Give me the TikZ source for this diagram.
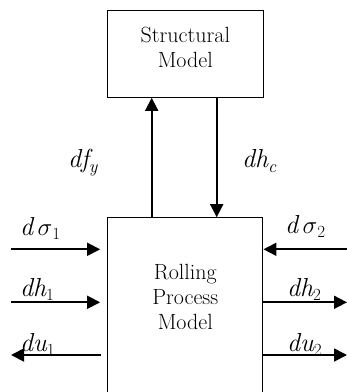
\documentclass[tikz,border=0pt]{standalone}
\usepackage{fontspec}
\usetikzlibrary{arrows.meta}
\newcommand\subup[1]{\raisebox{-4pt}{\fontsize{17}{17}\selectfont\upshape #1}}
\newcommand\subit[1]{\raisebox{-5pt}{\fontsize{18}{18}\selectfont\itshape #1}}
\begin{document}
\begin{tikzpicture}[x=1pt,y=-1pt,
  box/.style={draw,line width=1pt,inner sep=0},
  arr/.style={line width=1.8pt,-{Triangle[length=13pt,width=13pt]}},
  lbl/.style={inner sep=0,anchor=base west,font=\fontsize{26}{28}\selectfont\itshape},
  txt/.style={align=center,font=\fontsize{22}{25}\selectfont}]
\clip (0,0) rectangle (347,392);
\node[box,minimum width=156pt,minimum height=86.6pt] (sm) at (185.3,54) {};
\node[txt] (smtext) at (185.3,47.5) {Structural\\Model};
\node[box,minimum width=155.3pt,minimum height=200pt] (rpm) at (185.3,317.7) {};
\node[txt] (rpmtext) at (185.3,297) {Rolling\\Process\\Model};
% vertical connectors
\draw[arr] ([xshift=-33.6pt]rpm.north) -- ([xshift=-33.6pt]sm.south);
\draw[arr] ([xshift=31.4pt]sm.south) -- ([xshift=31.4pt]rpm.north);
\node[lbl] (lfy) at (68,167) {df\subit{y}};
\node[lbl] (lhc) at (242,167) {dh\subit{c}};
% left side
\coordinate (a1) at (11,249.3);
\coordinate (a2) at (11,302.3);
\coordinate (a3) at (11,355);
\draw[arr,shorten >=7pt] (a1) -- (a1 -| rpm.west);
\draw[arr,shorten >=7pt] (a2) -- (a2 -| rpm.west);
\draw[arr,shorten <=6pt] (a3 -| rpm.west) -- (a3);
\node[lbl] (ls1) at (20,235) {d\,$\sigma$\subup{1}};
\node[lbl] (lh1) at (20,296) {dh\subup{1}};
\node[lbl] (lu1) at (20,351) {du\subup{1}};
% right side
\coordinate (b1) at (347,249.3);
\coordinate (b2) at (347,302.3);
\coordinate (b3) at (347,355);
\draw[arr] (b1) -- (b1 -| rpm.east);
\draw[arr] (b2 -| rpm.east) -- (b2);
\draw[arr] (b3 -| rpm.east) -- (b3);
\node[lbl] (ls2) at (285,233) {d\,$\sigma$\subup{2}};
\node[lbl] (lh2) at (287,296) {dh\subup{2}};
\node[lbl] (lu2) at (287,351) {du\subup{2}};
\end{tikzpicture}
\end{document}
